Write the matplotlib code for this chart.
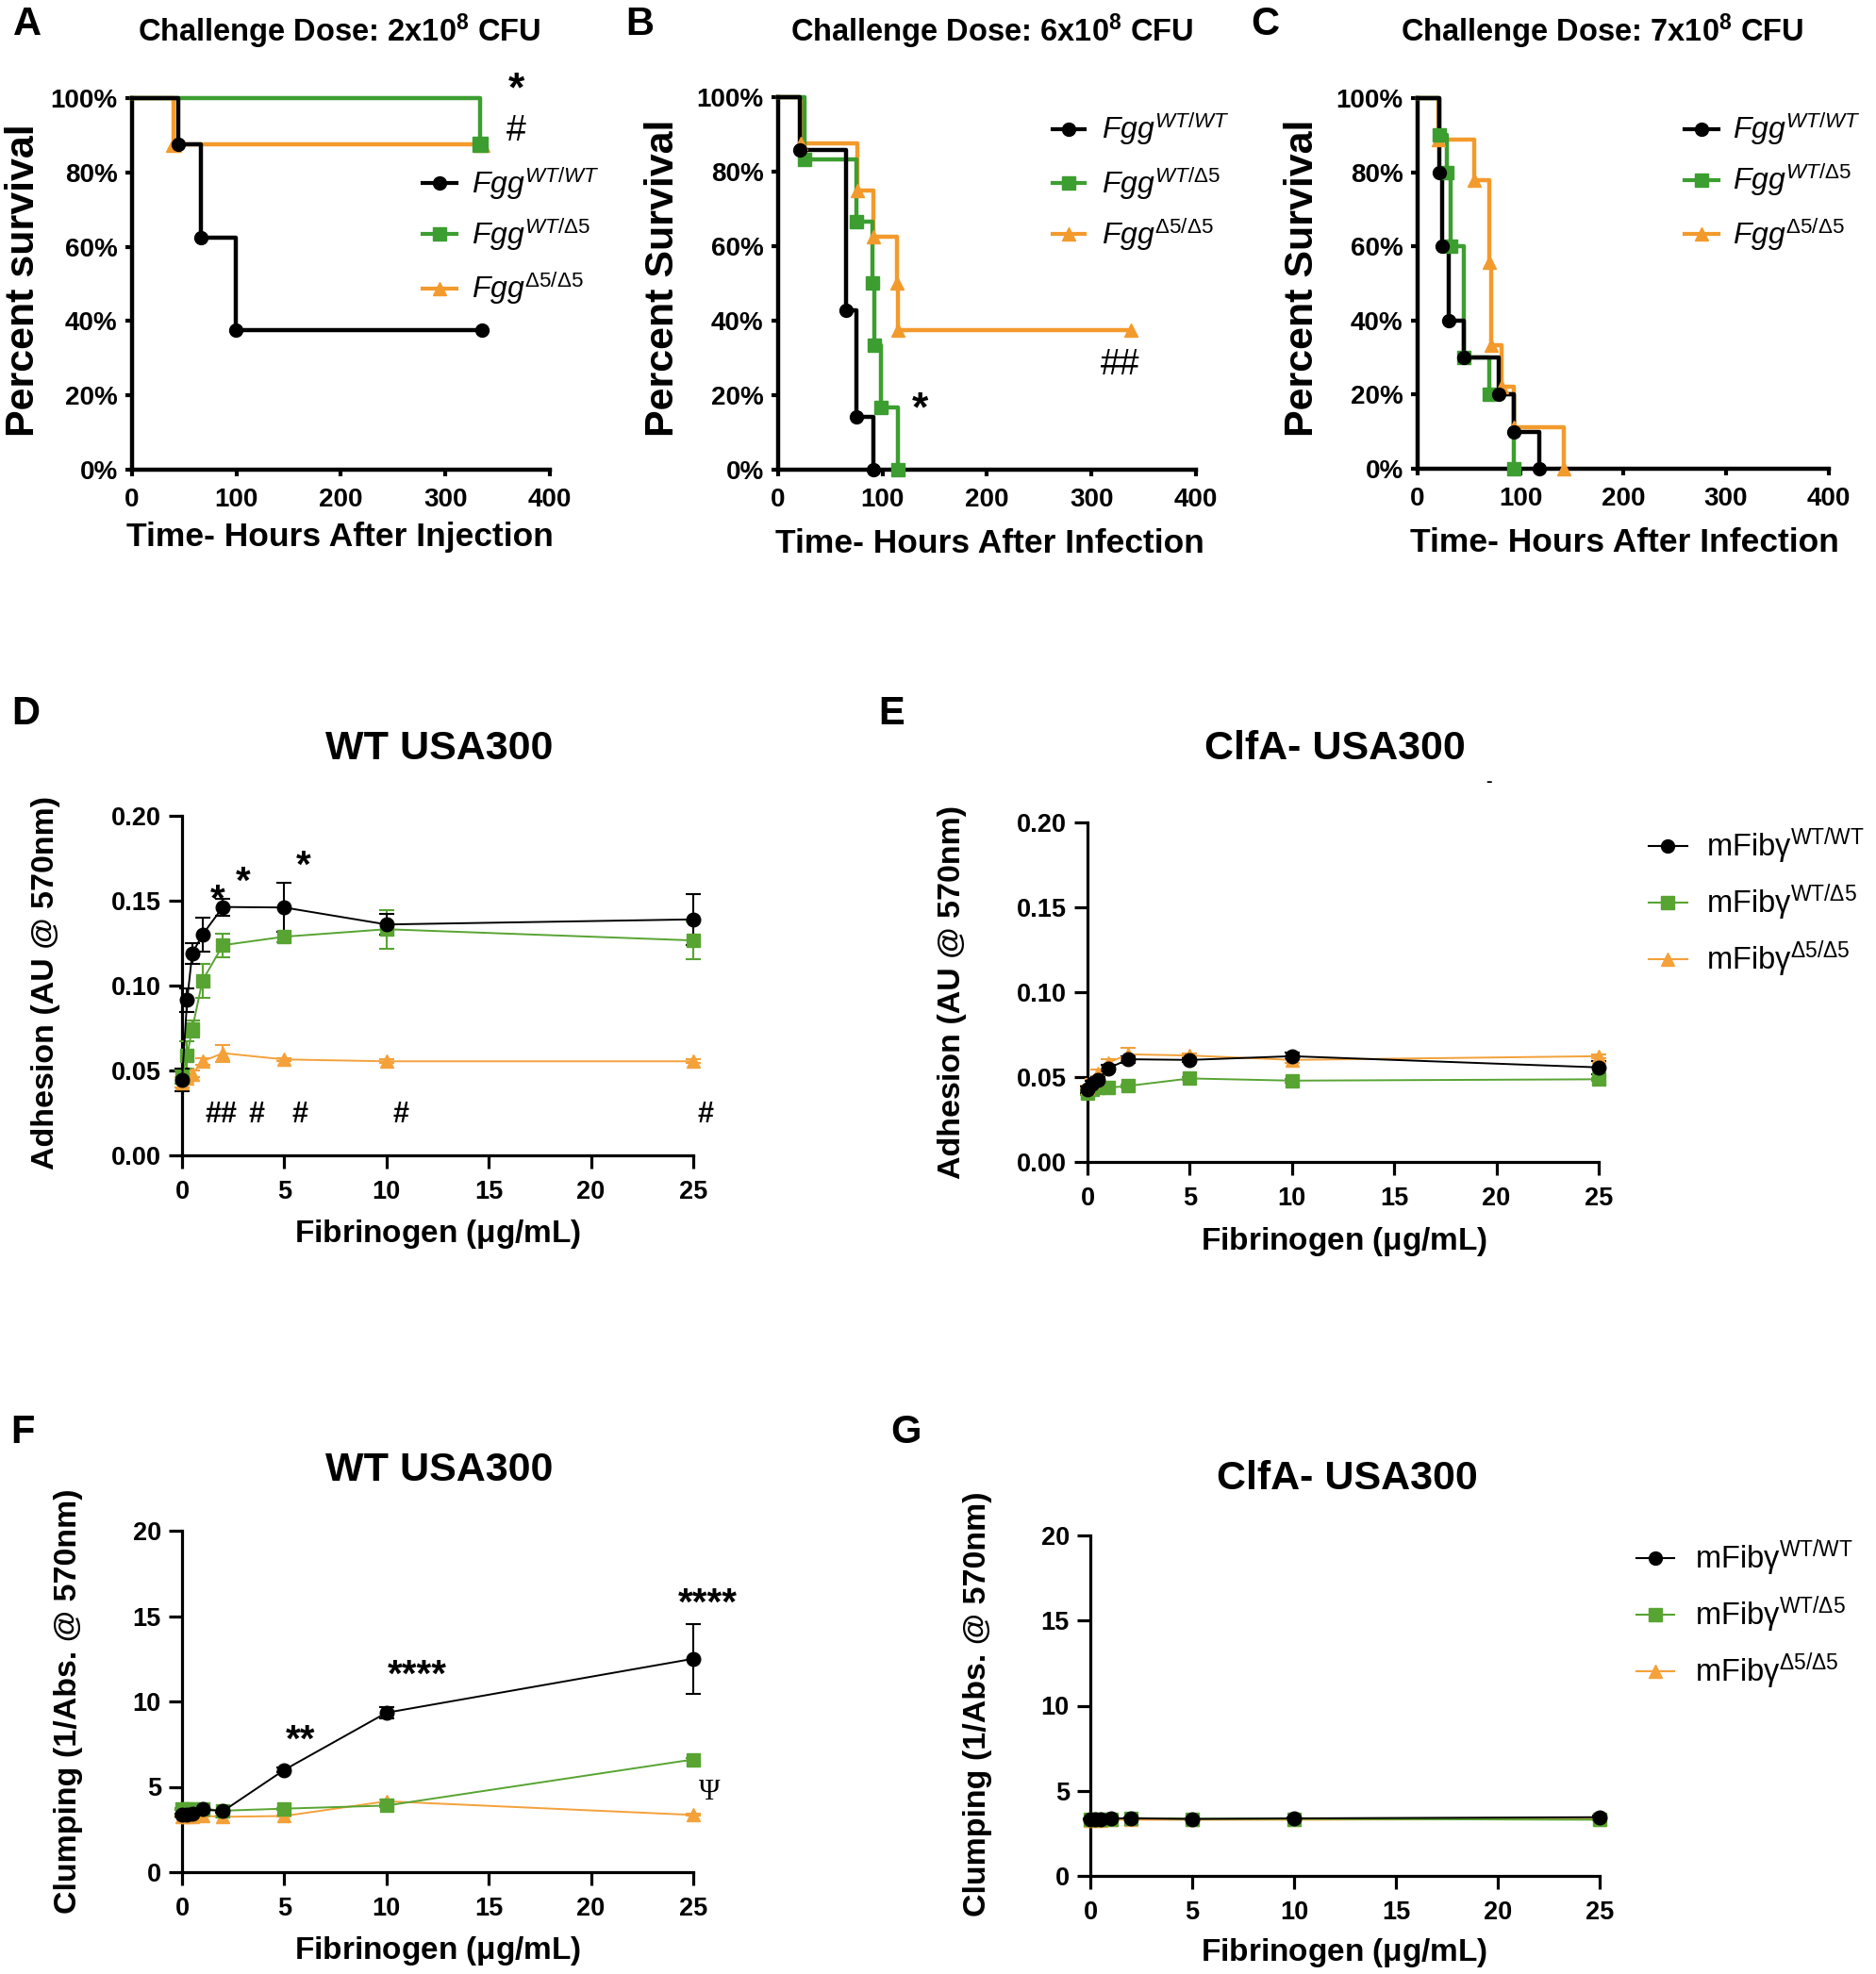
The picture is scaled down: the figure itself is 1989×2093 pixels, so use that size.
import matplotlib
matplotlib.use('Agg')
import matplotlib.pyplot as plt
from matplotlib.lines import Line2D

W, H = 1990, 2093

# ---------------- data ----------------
# Survival (Kaplan-Meier step points: time in h, percent survival)
A_wt_t = [0, 44, 66, 99, 335];            A_wt_s = [100, 87.5, 62.5, 37.5, 37.5]
A_het_t = [0, 333];                       A_het_s = [100, 87.5]
A_hom_t = [0, 40, 335];                   A_hom_s = [100, 87.5, 87.5]

B_wt_t = [0, 21, 65, 75, 91];             B_wt_s = [100, 85.7, 42.9, 14.3, 0]
B_het_t = [0, 25, 75, 90, 92, 98, 115];   B_het_s = [100, 83.3, 66.7, 50, 33.3, 16.7, 0]
B_hom_t = [0, 22, 76, 91, 114, 115, 338]; B_hom_s = [100, 87.5, 75, 62.5, 50, 37.5, 37.5]

C_wt_t = [0, 21, 24, 30, 45, 79, 94, 118]; C_wt_s = [100, 80, 60, 40, 30, 20, 10, 0]
C_het_t = [0, 21, 28, 32, 45, 70, 94];     C_het_s = [100, 90, 80, 60, 30, 20, 0]
C_hom_t = [0, 20, 55, 70, 72, 82, 94, 142]; C_hom_s = [100, 88.9, 77.8, 55.6, 33.3, 22.2, 11.1, 0]

# Fibrinogen concentration (ug/mL)
conc = [0, 0.25, 0.5, 1, 2, 5, 10, 25]

D_wt = [0.0445, 0.0916, 0.119, 0.130, 0.1463, 0.146, 0.136, 0.139]
D_wt_err = [0.0065, 0.007, 0.006, 0.010, 0.005, 0.0145, 0.006, 0.015]
D_het = [0.046, 0.059, 0.0745, 0.103, 0.1238, 0.1288, 0.1332, 0.1266]
D_het_err = [0.004, 0.008, 0.005, 0.010, 0.007, 0.003, 0.0115, 0.011]
D_hom = [0.043, 0.0455, 0.048, 0.0554, 0.0602, 0.0565, 0.0554, 0.0554]
D_hom_err = [0.003, 0.002, 0.002, 0.002, 0.005, 0.001, 0.001, 0.001]

E_wt = [0.0426, 0.0459, 0.0481, 0.0551, 0.0605, 0.0601, 0.0623, 0.0557]
E_wt_err = [0.002, 0.002, 0.002, 0.002, 0.002, 0.001, 0.002, 0.004]
E_het = [0.0404, 0.0426, 0.0437, 0.0437, 0.0448, 0.0492, 0.0479, 0.0487]
E_het_err = [0.001, 0.001, 0.001, 0.001, 0.001, 0.001, 0.001, 0.001]
E_hom = [0.044, 0.047, 0.0525, 0.0584, 0.0634, 0.0627, 0.0601, 0.0623]
E_hom_err = [0.001, 0.002, 0.002, 0.002, 0.004, 0.001, 0.002, 0.001]

F_wt = [3.35, 3.35, 3.4, 3.68, 3.57, 5.99, 9.34, 12.5]
F_wt_err = [0.1, 0.1, 0.1, 0.15, 0.1, 0.15, 0.35, 2.05]
F_het = [3.72, 3.72, 3.72, 3.72, 3.6, 3.72, 3.9, 6.6]
F_het_err = [0.05, 0.05, 0.05, 0.05, 0.05, 0.05, 0.1, 0.1]
F_hom = [3.25, 3.25, 3.25, 3.3, 3.24, 3.29, 4.15, 3.35]
F_hom_err = [0.05, 0.05, 0.05, 0.05, 0.05, 0.05, 0.1, 0.05]

G_wt = [3.35, 3.35, 3.35, 3.38, 3.38, 3.35, 3.38, 3.45]
G_wt_err = [0.05, 0.05, 0.05, 0.05, 0.05, 0.05, 0.05, 0.1]
G_het = [3.35, 3.35, 3.35, 3.35, 3.4, 3.35, 3.35, 3.3]
G_het_err = [0.05] * 8
G_hom = [3.25, 3.25, 3.25, 3.3, 3.3, 3.3, 3.3, 3.35]
G_hom_err = [0.05] * 8

surv_labels = [r'$\mathit{Fgg}^{\mathit{WT/WT}}$', r'$\mathit{Fgg}^{\mathit{WT/Δ5}}$',
               r'$\mathit{Fgg}^{\mathit{Δ5/Δ5}}$']
fib_labels = [r'$\mathrm{mFibγ}^{\mathrm{WT/WT}}$', r'$\mathrm{mFibγ}^{\mathrm{WT/Δ5}}$',
              r'$\mathrm{mFibγ}^{\mathrm{Δ5/Δ5}}$']

BLACK = '#000000'
GREEN = '#3c9e30'
ORANGE = '#f39a2c'
GREEN2 = '#58a432'
ORANGE2 = '#f4a13a'

# ---------------- style ----------------
plt.rcParams['font.family'] = ['Liberation Sans', 'DejaVu Sans']
plt.rcParams['mathtext.fontset'] = 'custom'
plt.rcParams['mathtext.rm'] = 'Liberation Sans'
plt.rcParams['mathtext.it'] = 'Liberation Sans:italic'
plt.rcParams['mathtext.bf'] = 'Liberation Sans:bold'

fig = plt.figure(figsize=(W / 100, H / 100), dpi=100)


def add_ax(l, t, r, b):
    return fig.add_axes([l / W, 1 - b / H, (r - l) / W, (b - t) / H])


def fxy(px, py):
    return px / W, 1 - py / H


def style_axes(ax, lw, tlen, tw, lsize, xpad, ypad):
    for s in ['top', 'right']:
        ax.spines[s].set_visible(False)
    for s in ['left', 'bottom']:
        ax.spines[s].set_linewidth(lw)
        ax.spines[s].set_capstyle('projecting')
    ax.tick_params(direction='out', length=tlen, width=tw, labelsize=lsize)
    ax.tick_params(axis='x', pad=xpad)
    ax.tick_params(axis='y', pad=ypad)
    for lab in ax.get_xticklabels() + ax.get_yticklabels():
        lab.set_fontweight('bold')


def place_labels(ax, box, xl, yl, xpos, ypos, xsize, ysize):
    l, t, r, b = box
    ax.set_xlabel(xl, fontsize=xsize, fontweight='bold')
    ax.set_ylabel(yl, fontsize=ysize, fontweight='bold')
    ax.xaxis.set_label_coords((xpos[0] - l) / (r - l), (b - xpos[1]) / (b - t))
    ax.yaxis.set_label_coords((ypos[0] - l) / (r - l), (b - ypos[1]) / (b - t))
    ax.xaxis.label.set_va('center')
    ax.yaxis.label.set_va('center')
    ax.yaxis.label.set_ha('center')


def manual_legend(labels, colors, markers, ms, x0, x1, xt, ys, fsize, lw):
    for lab, c, m, y in zip(labels, colors, markers, ys):
        fig.add_artist(Line2D([x0 / W, x1 / W], [1 - y / H] * 2, transform=fig.transFigure,
                              color=c, lw=lw))
        fig.add_artist(Line2D([(x0 + x1) / 2 / W], [1 - y / H], transform=fig.transFigure,
                              color=c, marker=m, ms=ms, ls='none'))
        fig.text(xt / W, 1 - y / H, lab, fontsize=fsize, va='center', ha='left')


def survival(box, series, title, title_x, letter, letter_xy, xl, yl, xpos, ypos, leg):
    ax = add_ax(*box)
    for t, s, c, m, ms in series:
        ax.step(t, s, where='post', color=c, lw=3.2, clip_on=False, zorder=3)
        ax.plot(t[1:], s[1:], ls='none', marker=m, color=c, ms=ms, clip_on=False, zorder=4)
    ax.set_xlim(0, 400)
    ax.set_ylim(0, 100)
    ax.set_xticks([0, 100, 200, 300, 400])
    ax.set_yticks([0, 20, 40, 60, 80, 100])
    ax.set_yticklabels(['0%', '20%', '40%', '60%', '80%', '100%'])
    style_axes(ax, 3.2, 5, 3, 20, 9, 6)
    place_labels(ax, box, xl, yl, xpos, ypos, 25.5, 31)
    x, y = fxy(title_x, 33)
    fig.text(x, y, title, fontsize=23.5, fontweight='bold', ha='center', va='center')
    x, y = fxy(*letter_xy)
    fig.text(x, y, letter, fontsize=30, fontweight='bold', ha='center', va='center')
    manual_legend(surv_labels, [BLACK, GREEN, ORANGE], ['o', 's', '^'], 10, *leg, 23, 3)
    return ax


# ---------------- Panel A ----------------
boxA = (140, 104, 583, 498)
axA = survival(boxA,
               [(A_hom_t, A_hom_s, ORANGE, '^', 11), (A_het_t, A_het_s, GREEN, 's', 12),
                (A_wt_t, A_wt_s, BLACK, 'o', 10)],
               r'Challenge Dose: 2x10$^{\mathbf{8}}$ CFU', 360, 'A', (29, 26),
               'Time- Hours After Injection', 'Percent survival', (360, 570), (25, 297),
               (448, 484, 500, [194, 248, 306]))
axA.text(368, 102, '*', fontsize=32, fontweight='bold', ha='center', va='center')
axA.text(368, 91, '#', fontsize=27, ha='center', va='center')

# ---------------- Panel B ----------------
boxB = (825, 103, 1268, 498)
axB = survival(boxB,
               [(B_hom_t, B_hom_s, ORANGE, '^', 10), (B_het_t, B_het_s, GREEN, 's', 10),
                (B_wt_t, B_wt_s, BLACK, 'o', 10)],
               r'Challenge Dose: 6x10$^{\mathbf{8}}$ CFU', 1052, 'B', (678, 26),
               'Time- Hours After Infection', 'Percent Survival', (1049, 577), (703, 295),
               (1116, 1150, 1168, [137, 194, 248]))
axB.text(136, 16, '*', fontsize=32, fontweight='bold', ha='center', va='center')
axB.text(327, 28, '##', fontsize=27, ha='center', va='center')

# ---------------- Panel C ----------------
boxC = (1503, 104, 1939, 497)
axC = survival(boxC,
               [(C_hom_t, C_hom_s, ORANGE, '^', 10), (C_het_t, C_het_s, GREEN, 's', 10),
                (C_wt_t, C_wt_s, BLACK, 'o', 10)],
               r'Challenge Dose: 7x10$^{\mathbf{8}}$ CFU', 1699, 'C', (1341, 26),
               'Time- Hours After Infection', 'Percent Survival', (1722, 575), (1381, 295),
               (1786, 1822, 1837, [137, 191, 248]))


# ---------------- Panels D-G ----------------
def fib_panel(box, data, ylim, yticks, yticklabels, title, title_xy, letter, letter_xy,
              yl, xpos, ypos, leg=None):
    ax = add_ax(*box)
    for y, e, c, m, ms in data:
        ax.errorbar(conc, y, yerr=e, color=c, lw=1.4, marker=m, ms=ms, capsize=6,
                    elinewidth=1.5, capthick=1.5, clip_on=False, zorder=3)
    ax.set_xlim(0, 25)
    ax.set_ylim(*ylim)
    ax.set_xticks([0, 5, 10, 15, 20, 25])
    ax.set_yticks(yticks)
    ax.set_yticklabels(yticklabels)
    style_axes(ax, 2.3, 10, 2.3, 19.5, 9, 6)
    place_labels(ax, box, r'Fibrinogen ($\mathbf{\mu}$g/mL)', yl, xpos, ypos, 24, 24.5)
    x, y = fxy(*title_xy)
    fig.text(x, y, title, fontsize=31, fontweight='bold', ha='center', va='center')
    x, y = fxy(*letter_xy)
    fig.text(x, y, letter, fontsize=30, fontweight='bold', ha='center', va='center')
    if leg is not None:
        manual_legend(fib_labels, [BLACK, GREEN2, ORANGE2], ['o', 's', '^'], 10, *leg, 23.5, 1.5)
    return ax


adh_ticks = [0, 0.05, 0.10, 0.15, 0.20]
adh_labels = ['0.00', '0.05', '0.10', '0.15', '0.20']
clump_ticks = [0, 5, 10, 15, 20]
clump_labels = ['0', '5', '10', '15', '20']

boxD = (193, 865, 735, 1225)
axD = fib_panel(boxD,
                [(D_hom, D_hom_err, ORANGE2, '^', 10), (D_het, D_het_err, GREEN2, 's', 9.5),
                 (D_wt, D_wt_err, BLACK, 'o', 10.5)],
                (0, 0.20), adh_ticks, adh_labels, 'WT USA300', (466, 794), 'D', (27, 757),
                'Adhesion (AU @ 570nm)', (464, 1308), (49, 1042))
for xx, yy in [(1.74, 0.150), (3.0, 0.1605), (5.93, 0.170)]:
    axD.text(xx, yy, '*', fontsize=29, fontweight='bold', ha='center', va='center')
for xx, s in [(1.9, '##'), (3.65, '#'), (5.77, '#'), (10.7, '#'), (25.6, '#')]:
    axD.text(xx, 0.0237, s, fontsize=22, fontweight='bold', ha='center', va='center')

boxE = (1153, 872, 1695, 1232)
axE = fib_panel(boxE,
                [(E_het, E_het_err, GREEN2, 's', 9.5), (E_hom, E_hom_err, ORANGE2, '^', 10),
                 (E_wt, E_wt_err, BLACK, 'o', 10.5)],
                (0, 0.20), adh_ticks, adh_labels, 'ClfA- USA300', (1415, 794), 'E', (945, 757),
                'Adhesion (AU @ 570nm)', (1425, 1316), (1010, 1052),
                leg=(1748, 1789, 1809, [897, 957, 1017]))
x, y = fxy(1579, 830)
fig.text(x, y, '-', fontsize=14, fontweight='bold', ha='center', va='center')

boxF = (193, 1623, 735, 1985)
axF = fib_panel(boxF,
                [(F_hom, F_hom_err, ORANGE2, '^', 10), (F_het, F_het_err, GREEN2, 's', 9.5),
                 (F_wt, F_wt_err, BLACK, 'o', 10.5)],
                (0, 20), clump_ticks, clump_labels, 'WT USA300', (466, 1559), 'F', (24, 1519),
                'Clumping (1/Abs. @ 570nm)', (464, 2069), (73, 1804))
axF.text(5.8, 7.7, '**', fontsize=29, fontweight='bold', ha='center', va='center')
axF.text(11.5, 11.5, '****', fontsize=29, fontweight='bold', ha='center', va='center')
axF.text(25.7, 15.7, '****', fontsize=29, fontweight='bold', ha='center', va='center')
axF.text(25.8, 4.65, 'Ψ', fontsize=22, ha='center', va='center',
         family=['Liberation Serif', 'DejaVu Serif'])

boxG = (1156, 1628, 1696, 1989)
axG = fib_panel(boxG,
                [(G_hom, G_hom_err, ORANGE2, '^', 10), (G_het, G_het_err, GREEN2, 's', 9.5),
                 (G_wt, G_wt_err, BLACK, 'o', 10.5)],
                (0, 20), clump_ticks, clump_labels, 'ClfA- USA300', (1428, 1568), 'G', (961, 1519),
                'Clumping (1/Abs. @ 570nm)', (1425, 2071), (1037, 1807),
                leg=(1735, 1775, 1797, [1652, 1712, 1772]))

fig.savefig('out.png', dpi=100)
